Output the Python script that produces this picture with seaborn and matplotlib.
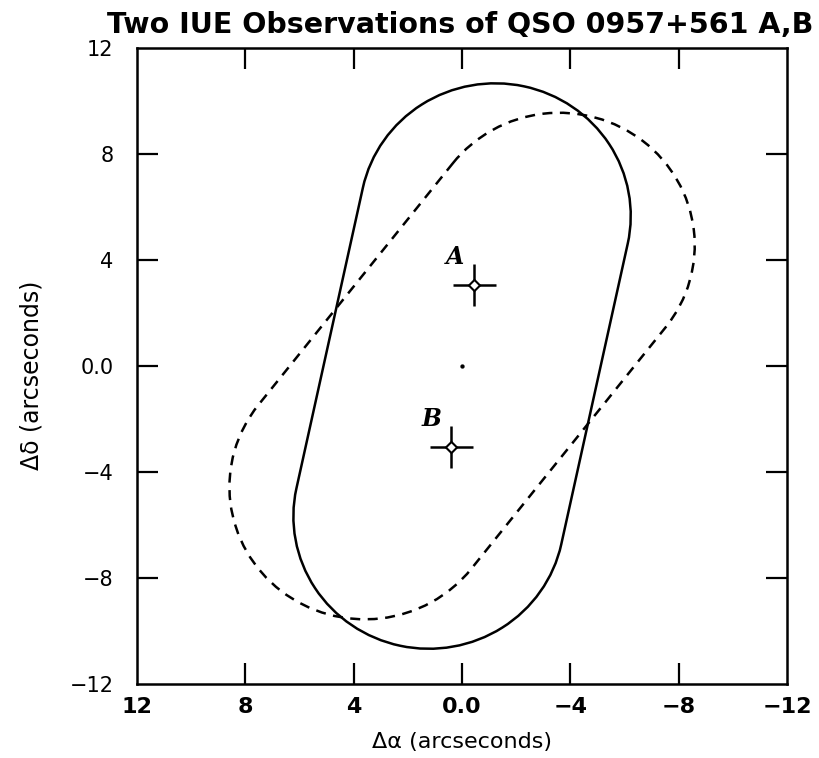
import numpy as np
import seaborn as sns
import matplotlib
matplotlib.use("Agg")
import matplotlib.pyplot as plt
from matplotlib.patches import PathPatch
from matplotlib.path import Path
from matplotlib.transforms import Affine2D

# IUE large aperture outlines (arcsec) for the two observations
aperture_width = 10.0
aperture_length = 21.6
aperture_center_ra = [0.0, 0.0]
aperture_center_dec = [0.0, 0.0]
aperture_angle = [12.2, 38.2]          # rotation of the long axis from north (deg)
aperture_style = ["-", (0, (4, 3))]

# QSO images
source_names = ["A", "B"]
source_ra = [-0.45, 0.40]
source_dec = [3.05, -3.05]
pointing_ra = [0.0]
pointing_dec = [0.0]

ticks = [12, 8, 4, 0, -4, -8, -12]
tick_labels = ["12", "8", "4", "0.0", "\u22124", "\u22128", "\u221212"]


def slot_outline(width, length):
    # slot with semicircular ends, long axis along y, centred on the origin
    r = width / 2
    h = length / 2 - r
    top = Path.arc(0, 180)
    bot = Path.arc(180, 360)
    verts = np.vstack([top.vertices * r + [0, h], bot.vertices * r + [0, -h],
                       top.vertices[:1] * r + [0, h]])
    codes = list(top.codes) + [Path.LINETO] + list(bot.codes[1:]) + [Path.CLOSEPOLY]
    return Path(verts, codes)


sns.set_theme(style="white")
plt.rcParams["font.family"] = ["DejaVu Sans"]
plt.rcParams["text.color"] = "black"
plt.rcParams["xtick.color"] = "black"
plt.rcParams["ytick.color"] = "black"
plt.rcParams["axes.labelcolor"] = "black"

fig = plt.figure(figsize=(8.2, 7.58), dpi=100)
ax = fig.add_axes([0.167, 0.0976, 0.793, 0.839])

slot = slot_outline(aperture_width, aperture_length)
for cx, cy, ang, ls in zip(aperture_center_ra, aperture_center_dec, aperture_angle, aperture_style):
    patch = PathPatch(slot, fill=False, ec="black", lw=1.8, ls=ls,
                      transform=Affine2D().rotate_deg(ang).translate(cx, cy) + ax.transData)
    ax.add_patch(patch)

# crosses + open diamonds at A and B
ax.errorbar(source_ra, source_dec, xerr=0.8, yerr=0.8, fmt="none",
            ecolor="black", elinewidth=1.8, capsize=0, zorder=3)
sns.scatterplot(x=source_ra, y=source_dec, marker="D", s=32, color="white",
                edgecolor="black", linewidth=1.5, zorder=4, ax=ax)
sns.scatterplot(x=pointing_ra, y=pointing_dec, s=8, color="black",
                edgecolor="black", zorder=4, ax=ax)
for name, x, y in zip(source_names, source_ra, source_dec):
    ax.text(x + 0.72, y + 1.05, name, ha="center", va="center", fontsize=17,
            fontstyle="italic", fontweight="bold", family="DejaVu Serif")

ax.set_xlim(12, -12)
ax.set_ylim(-12, 12)
ax.set_xticks(ticks)
ax.set_xticklabels(tick_labels, fontsize=16, fontweight="bold")
ax.set_yticks(ticks)
ax.set_yticklabels(tick_labels, fontsize=15)
ax.tick_params(axis="both", direction="in", length=15, width=1.6,
               top=True, right=True, bottom=True, left=True)
ax.tick_params(axis="x", pad=9)
ax.tick_params(axis="y", pad=17)
# no tick marks in the corners, only labels
for axis in (ax.xaxis, ax.yaxis):
    mt = axis.get_major_ticks()
    for t in (mt[0], mt[-1]):
        t.tick1line.set_visible(False)
        t.tick2line.set_visible(False)
for sp in ax.spines.values():
    sp.set_linewidth(1.8)
    sp.set_color("black")

ax.set_xlabel("\u0394\u03b1 (arcseconds)", fontsize=16)
ax.set_ylabel("\u0394\u03b4 (arcseconds)", fontsize=17)
ax.xaxis.set_label_coords(0.5, -0.075)
ax.yaxis.set_label_coords(-0.143, 0.486)

fig.text(0.561, 0.9565, "Two IUE Observations of QSO 0957+561 A,B",
         ha="center", va="baseline", fontsize=20.5, fontweight="bold")

fig.savefig("out.png", dpi=100)
